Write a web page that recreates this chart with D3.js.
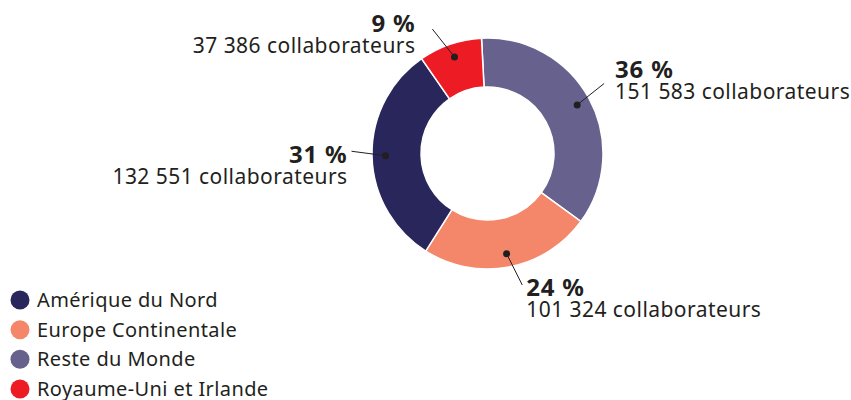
<!DOCTYPE html>
<html>
<head>
<meta charset="utf-8">
<script src="https://cdn.jsdelivr.net/npm/d3@7"></script>
<style>
  body { margin: 0; background: #fff; }
  svg text { font-family: "Noto Sans", "Open Sans", sans-serif; fill: #231f20; }
</style>
</head>
<body>
<svg id="chart" width="851" height="400"></svg>
<script>
// data
const regions = ['Reste du Monde', 'Europe Continentale', 'Amérique du Nord', 'Royaume-Uni et Irlande'];
const employees = [151583, 101324, 132551, 37386];
const percents = [36, 24, 31, 9];
const colors = ['#67618e', '#f4866a', '#29265b', '#ed1c24'];
const legendOrder = ['Amérique du Nord', 'Europe Continentale', 'Reste du Monde', 'Royaume-Uni et Irlande'];

/* layout */
const cx = 487.5, cy = 153.5;
const outerR = 115.5, innerR = 66.5;
const startAngle = -0.052;
// per label: leader angle shift (rad), text dx, dy from leader end, anchor
const labelLayout = [
  [-0.044, 11, -6, 'start'],
  [-0.070, 4, 11, 'start'],
  [0.038, -4, 12, 'end'],
  [-0.087, -17, 3, 'end']
];

const svg = d3.select('#chart');
const g = svg.append('g').attr('transform', `translate(${cx},${cy})`);

const pie = d3.pie().sort(null).value(d => d).startAngle(startAngle).endAngle(startAngle + 2 * Math.PI);
const arcs = pie(employees);

const arc = d3.arc().innerRadius(innerR).outerRadius(outerR);
const dotArc = d3.arc().innerRadius(102).outerRadius(102);
const endArc = d3.arc().innerRadius(136).outerRadius(136);

g.selectAll('path.slice')
  .data(arcs)
  .enter()
  .append('path')
  .attr('class', 'slice')
  .attr('d', arc)
  .attr('fill', (d, i) => colors[i])
  .attr('stroke', '#fff')
  .attr('stroke-width', 1.5);

const fmt = n => d3.format(',')(n).replace(/,/g, ' ');

arcs.forEach((d, i) => {
  const [shift, dx, dy, anchor] = labelLayout[i];
  const p0 = dotArc.centroid(d);
  const mid = (d.startAngle + d.endAngle) / 2 + shift;
  const p1 = endArc.centroid({startAngle: mid, endAngle: mid});
  g.append('line')
    .attr('x1', p0[0]).attr('y1', p0[1])
    .attr('x2', p1[0]).attr('y2', p1[1])
    .attr('stroke', '#231f20').attr('stroke-width', 1);
  g.append('circle')
    .attr('cx', p0[0]).attr('cy', p0[1]).attr('r', 3.5)
    .attr('fill', '#231f20');
  g.append('text')
    .attr('x', p1[0] + dx).attr('y', p1[1] + dy)
    .attr('text-anchor', anchor)
    .attr('font-weight', 'bold').attr('font-size', 24)
    .attr('letter-spacing', 0.8)
    .text(percents[i] + ' %');
  g.append('text')
    .attr('x', p1[0] + dx).attr('y', p1[1] + dy + 21)
    .attr('text-anchor', anchor)
    .attr('font-size', 21)
    .attr('letter-spacing', 0.45)
    .text(fmt(employees[i]) + ' collaborateurs');
});

// legend
const legendY = d3.scalePoint().domain(legendOrder).range([300, 389]);
const legend = svg.append('g');
legendOrder.forEach(name => {
  const i = regions.indexOf(name);
  legend.append('circle')
    .attr('cx', 20).attr('cy', legendY(name)).attr('r', 9.5)
    .attr('fill', colors[i]);
  legend.append('text')
    .attr('x', 37).attr('y', legendY(name) + 7)
    .attr('font-size', 20)
    .attr('letter-spacing', 0.4)
    .text(name);
});
</script>
</body>
</html>
